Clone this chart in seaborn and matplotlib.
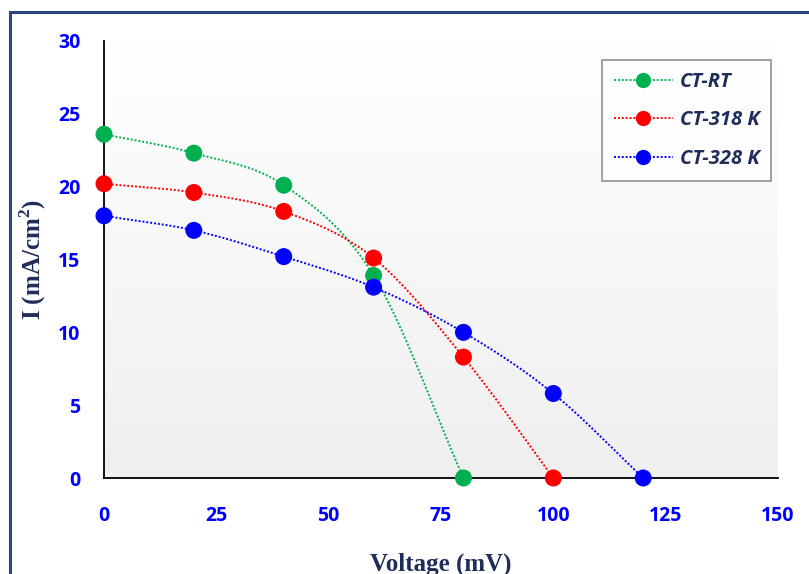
import numpy as np
import pandas as pd
import matplotlib
matplotlib.use("Agg")
import matplotlib.pyplot as plt
import seaborn as sns
from matplotlib.lines import Line2D
from matplotlib.patches import Rectangle

# ---- data ----
series_names = ["CT-RT", "CT-318 K", "CT-328 K"]
rt_v = [0, 20, 40, 60, 80]
rt_i = [23.6, 22.3, 20.1, 13.9, 0.0]
k318_v = [0, 20, 40, 60, 80, 100]
k318_i = [20.2, 19.6, 18.3, 15.1, 8.3, 0.0]
k328_v = [0, 20, 40, 60, 80, 100, 120]
k328_i = [18.0, 17.0, 15.2, 13.1, 10.0, 5.8, 0.0]
colors = ["#00b050", "#ff0000", "#0000ff"]
x_ticks = [0, 25, 50, 75, 100, 125, 150]
y_ticks = [0, 5, 10, 15, 20, 25, 30]

sns.set_theme(style="white")
plt.rcParams['font.family'] = ['Open Sans', 'DejaVu Sans']

def smooth(xs, ys, n=30):
    """Excel-style smoothed line (Catmull-Rom through the points)."""
    x = np.asarray(xs, float); y = np.asarray(ys, float)
    px = np.concatenate([[2*x[0]-x[1]], x, [2*x[-1]-x[-2]]])
    py = np.concatenate([[2*y[0]-y[1]], y, [2*y[-1]-y[-2]]])
    ox, oy = [], []
    t = np.linspace(0, 1, n)
    for k in range(1, len(px)-2):
        for P, out in ((px, ox), (py, oy)):
            p0, p1, p2, p3 = P[k-1], P[k], P[k+1], P[k+2]
            out.extend(0.5*((2*p1) + (-p0+p2)*t + (2*p0-5*p1+4*p2-p3)*t**2 + (-p0+3*p1-3*p2+p3)*t**3))
    return ox, oy

raw = pd.concat([
    pd.DataFrame({"V": rt_v, "I": rt_i, "s": series_names[0]}),
    pd.DataFrame({"V": k318_v, "I": k318_i, "s": series_names[1]}),
    pd.DataFrame({"V": k328_v, "I": k328_i, "s": series_names[2]}),
], ignore_index=True)

curves = []
for name in series_names:
    d = raw[raw.s == name]
    sx, sy = smooth(d.V.values, d.I.values)
    curves.append(pd.DataFrame({"V": sx, "I": sy, "s": name, "o": np.arange(len(sx))}))
curves = pd.concat(curves, ignore_index=True)

fig = plt.figure(figsize=(8.09, 5.74), dpi=100)
fig.patch.set_facecolor("white")
ax = fig.add_axes([104/809, 1-478/574, (778-104)/809, (478-41)/574])
ax.set_facecolor("none")

# gradient background
grad = np.linspace(1.0, 0.0, 256).reshape(-1, 1)
ax.imshow(grad, extent=[0, 150, 0, 30], aspect="auto", origin="upper",
          cmap=matplotlib.colors.LinearSegmentedColormap.from_list("g", ["#efefef", "#ffffff"]),
          vmin=0, vmax=1, zorder=0)

pal = dict(zip(series_names, colors))
sns.lineplot(data=curves, x="V", y="I", hue="s", palette=pal, sort=False,
             estimator=None, units="s", linewidth=1.4, linestyle=(0, (1, 1)),
             legend=False, ax=ax, zorder=2)
sns.scatterplot(data=raw, x="V", y="I", hue="s", palette=pal, s=150,
                edgecolor="none", legend=False, ax=ax, zorder=3)
for c in ax.collections:
    c.set_clip_on(False)
for l in ax.lines:
    l.set_clip_on(False)

ax.set_xlim(0, 150)
ax.set_ylim(0, 30)
ax.set_xticks(x_ticks)
ax.set_yticks(y_ticks)
for sp in ["top", "right"]:
    ax.spines[sp].set_visible(False)
for sp in ["left", "bottom"]:
    ax.spines[sp].set_color("black")
    ax.spines[sp].set_linewidth(1.3)
ax.tick_params(axis="both", direction="out", length=7, width=1.3, color="black",
               labelcolor="#0000ff", labelsize=14)
ax.tick_params(axis="x", pad=13)
ax.tick_params(axis="y", pad=10)
for lab in ax.get_xticklabels() + ax.get_yticklabels():
    lab.set_fontweight("bold")

ax.set_xlabel("Voltage (mV)", family=["Liberation Serif"], fontweight="bold",
              fontsize=18, color="#1f2d5a", labelpad=19)
ax.set_ylabel("I (mA/cm$^\\mathregular{2}$)", family=["Liberation Serif"], fontweight="bold",
              fontsize=18, color="#1f2d5a", labelpad=7)

handles = [Line2D([0], [0], color=c, linestyle=(0, (1, 1)), linewidth=1.4,
                  marker="o", markersize=11, markeredgewidth=0) for c in colors]
leg = ax.legend(handles, series_names, loc="upper left", bbox_to_anchor=(0.739, 0.956),
                borderaxespad=0, frameon=True, fancybox=False, handlelength=2.9,
                labelspacing=0.9, borderpad=0.6, handletextpad=0.35,
                prop={"family": ["Open Sans"], "weight": "bold", "style": "italic", "size": 14.5})
leg.get_frame().set_edgecolor("#7f7f7f")
leg.get_frame().set_linewidth(1.3)
leg.get_frame().set_facecolor("white")
for t in leg.get_texts():
    t.set_color("#1f2d5a")

fig.patches.append(Rectangle((10/809, -0.1), 2.0, (1-12/574)+0.1, transform=fig.transFigure,
                             fill=False, edgecolor="#2a4580", linewidth=2.2, zorder=-1))

fig.savefig("out.png", dpi=100)
